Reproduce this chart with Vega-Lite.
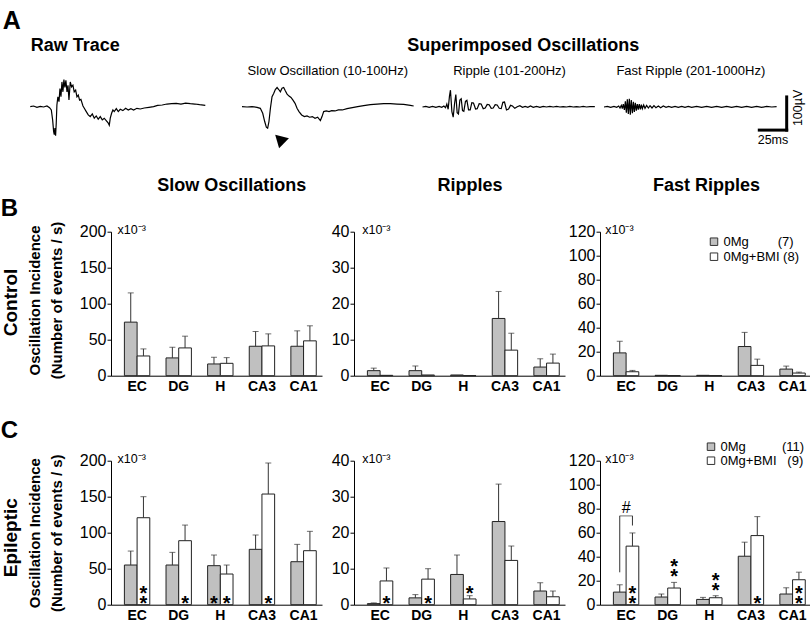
{
"$schema": "https://vega.github.io/schema/vega-lite/v6.json",
"background": "white",
"padding": {"left": 0, "top": 8, "right": 0, "bottom": 0},
"config": {"font": "Liberation Sans", "view": {"stroke": null}},
"datasets": {
"raw": [{"t":0,"v":1},{"t":3.0,"v":3},{"t":6.1,"v":-1},{"t":9.1,"v":2},{"t":12.2,"v":0},{"t":15.2,"v":3},{"t":17.6,"v":-2},{"t":19.2,"v":-9},{"t":20.4,"v":-39},{"t":21.3,"v":-74},{"t":21.9,"v":-84},{"t":22.5,"v":-64},{"t":23.1,"v":-87},{"t":23.7,"v":-49},{"t":24.3,"v":6},{"t":25.2,"v":31},{"t":26.2,"v":16},{"t":27.1,"v":56},{"t":28.0,"v":31},{"t":28.9,"v":76},{"t":29.8,"v":46},{"t":30.7,"v":83},{"t":31.6,"v":59},{"t":32.5,"v":81},{"t":33.5,"v":46},{"t":34.4,"v":66},{"t":35.3,"v":21},{"t":36.5,"v":76},{"t":37.7,"v":61},{"t":38.9,"v":66},{"t":40.1,"v":46},{"t":41.4,"v":51},{"t":42.6,"v":31},{"t":43.8,"v":36},{"t":45.0,"v":21},{"t":46.2,"v":23},{"t":48.1,"v":3},{"t":49.3,"v":-4},{"t":51.1,"v":-14},{"t":52.9,"v":-24},{"t":54.7,"v":-29},{"t":56.6,"v":-21},{"t":58.4,"v":-34},{"t":60.2,"v":-27},{"t":62.0,"v":-37},{"t":63.9,"v":-29},{"t":65.7,"v":-39},{"t":67.5,"v":-34},{"t":69.3,"v":-41},{"t":71.2,"v":-49},{"t":72.1,"v":-55},{"t":73.0,"v":-34},{"t":74.2,"v":-19},{"t":75.4,"v":-9},{"t":76.6,"v":-14},{"t":78.5,"v":-5},{"t":80.3,"v":-14},{"t":82.1,"v":-7},{"t":84.5,"v":-11},{"t":87.0,"v":-4},{"t":89.4,"v":-9},{"t":91.8,"v":-5},{"t":94.3,"v":-9},{"t":97.3,"v":-4},{"t":100.4,"v":-6},{"t":104.0,"v":-3},{"t":108.3,"v":-1},{"t":112.5,"v":1},{"t":116.2,"v":5},{"t":120.4,"v":6},{"t":124.7,"v":9},{"t":129.0,"v":10},{"t":133.2,"v":11},{"t":137.5,"v":9},{"t":141.7,"v":12},{"t":146.0,"v":10},{"t":150.2,"v":9},{"t":154.5,"v":7},{"t":159.7,"v":5}],
"slowtr": [{"t":0,"v":1},{"t":4.6,"v":0},{"t":9.1,"v":1},{"t":13.7,"v":-1},{"t":16.7,"v":-4},{"t":18.9,"v":-19},{"t":20.7,"v":-44},{"t":22.2,"v":-61},{"t":23.4,"v":-64},{"t":24.6,"v":-44},{"t":25.9,"v":-4},{"t":27.4,"v":31},{"t":28.9,"v":41},{"t":30.4,"v":53},{"t":32.0,"v":59},{"t":33.5,"v":53},{"t":35.0,"v":46},{"t":36.5,"v":57},{"t":38.0,"v":59},{"t":39.5,"v":49},{"t":41.1,"v":39},{"t":42.9,"v":33},{"t":44.7,"v":29},{"t":46.5,"v":21},{"t":48.4,"v":11},{"t":50.2,"v":-4},{"t":52.0,"v":-14},{"t":54.4,"v":-24},{"t":56.9,"v":-29},{"t":59.3,"v":-27},{"t":61.7,"v":-31},{"t":64.2,"v":-29},{"t":66.6,"v":-34},{"t":69.0,"v":-31},{"t":71.5,"v":-41},{"t":73.0,"v":-29},{"t":74.5,"v":-14},{"t":76.9,"v":-12},{"t":79.4,"v":-14},{"t":81.8,"v":-11},{"t":84.9,"v":-12},{"t":87.9,"v":-9},{"t":91.5,"v":-9},{"t":95.8,"v":-5},{"t":100.7,"v":-2},{"t":105.5,"v":1},{"t":111.0,"v":4},{"t":117.1,"v":7},{"t":123.2,"v":9},{"t":129.3,"v":10},{"t":135.3,"v":10},{"t":141.4,"v":9},{"t":147.5,"v":8},{"t":153.6,"v":5},{"t":156.6,"v":3}],
"rippletr": [{"t":0,"v":0},{"t":3.0,"v":2},{"t":6.1,"v":-1},{"t":9.1,"v":2},{"t":12.2,"v":-1},{"t":15.2,"v":2},{"t":17.6,"v":-1},{"t":19.5,"v":3},{"t":21.0,"v":-2},{"t":22.2,"v":9},{"t":23.4,"v":-7},{"t":24.6,"v":33},{"t":25.5,"v":51},{"t":26.8,"v":-14},{"t":28.0,"v":-31},{"t":29.2,"v":9},{"t":30.4,"v":38},{"t":31.6,"v":-17},{"t":32.8,"v":-21},{"t":34.1,"v":21},{"t":35.3,"v":25},{"t":36.5,"v":-11},{"t":37.7,"v":-13},{"t":39.2,"v":17},{"t":40.5,"v":20},{"t":42.0,"v":-9},{"t":43.5,"v":-9},{"t":45.0,"v":13},{"t":46.5,"v":12},{"t":48.4,"v":-6},{"t":49.9,"v":-5},{"t":51.7,"v":10},{"t":53.5,"v":9},{"t":55.4,"v":-5},{"t":57.2,"v":-3},{"t":59.0,"v":8},{"t":60.8,"v":7},{"t":62.7,"v":-4},{"t":64.5,"v":-3},{"t":66.3,"v":7},{"t":68.1,"v":6},{"t":70.0,"v":-4},{"t":71.8,"v":-5},{"t":73.3,"v":14},{"t":74.8,"v":15},{"t":76.6,"v":-9},{"t":78.5,"v":-6},{"t":80.3,"v":5},{"t":82.1,"v":3},{"t":84.2,"v":-4},{"t":86.4,"v":1},{"t":88.8,"v":4},{"t":91.2,"v":-1},{"t":93.7,"v":2},{"t":96.1,"v":-1},{"t":98.5,"v":3},{"t":101.0,"v":-1},{"t":104.0,"v":2},{"t":107.1,"v":-1},{"t":110.1,"v":2},{"t":113.1,"v":0},{"t":116.2,"v":2},{"t":119.2,"v":0},{"t":122.3,"v":2},{"t":125.3,"v":0},{"t":128.3,"v":1},{"t":131.4,"v":0},{"t":134.4,"v":2},{"t":137.5,"v":0},{"t":140.5,"v":1},{"t":143.6,"v":0},{"t":146.6,"v":2},{"t":149.6,"v":0},{"t":152.7,"v":1},{"t":157.2,"v":1}],
"fasttr": [{"t":0,"v":0},{"t":3.0,"v":2},{"t":6.1,"v":-1},{"t":9.1,"v":2},{"t":11.6,"v":-1},{"t":13.4,"v":3},{"t":14.6,"v":-3},{"t":15.8,"v":5},{"t":16.7,"v":-5},{"t":17.6,"v":9},{"t":18.6,"v":-9},{"t":19.5,"v":17},{"t":20.4,"v":-17},{"t":21.3,"v":23},{"t":22.2,"v":-21},{"t":23.1,"v":25},{"t":24.0,"v":-23},{"t":24.9,"v":21},{"t":25.9,"v":-19},{"t":26.8,"v":16},{"t":27.7,"v":-15},{"t":28.6,"v":13},{"t":29.5,"v":-11},{"t":30.4,"v":9},{"t":31.3,"v":-8},{"t":32.2,"v":9},{"t":33.2,"v":-7},{"t":34.1,"v":7},{"t":35.0,"v":-5},{"t":36.2,"v":6},{"t":37.4,"v":-4},{"t":38.9,"v":5},{"t":40.5,"v":-3},{"t":42.0,"v":4},{"t":43.8,"v":-3},{"t":45.6,"v":4},{"t":47.4,"v":-2},{"t":49.6,"v":3},{"t":51.7,"v":-2},{"t":54.1,"v":3},{"t":56.6,"v":-1},{"t":59.0,"v":2},{"t":61.7,"v":-1},{"t":64.8,"v":2},{"t":67.8,"v":-1},{"t":70.9,"v":2},{"t":73.9,"v":-1},{"t":76.9,"v":2},{"t":80.0,"v":-1},{"t":84.5,"v":2},{"t":89.1,"v":-1},{"t":93.7,"v":2},{"t":98.2,"v":-1},{"t":102.8,"v":2},{"t":107.4,"v":-1},{"t":111.9,"v":2},{"t":116.5,"v":-1},{"t":121.0,"v":2},{"t":125.6,"v":-1},{"t":130.2,"v":2},{"t":134.7,"v":-1},{"t":139.3,"v":2},{"t":143.9,"v":-1},{"t":148.4,"v":2},{"t":153.0,"v":0},{"t":157.5,"v":1}],
"arrow": [{"t":34.3,"v":-97}],
"scalebar": [{"t":141.7,"t2":166.7,"v":-70,"v2":-70},{"t":166.7,"t2":166.7,"v":-70,"v2":30.5}],
"sbv": [{"t":177,"v":-2.7,"label":"100µV"}],
"sbh": [{"t":154.2,"v":-70,"label":"25ms"}],
"Bslow": [{"region":"EC","grp":"0Mg","val":74.4,"hi":115},{"region":"EC","grp":"0Mg+BMI","val":27.4,"hi":37.2},{"region":"DG","grp":"0Mg","val":24.7,"hi":39.5},{"region":"DG","grp":"0Mg+BMI","val":38.6,"hi":54.9},{"region":"H","grp":"0Mg","val":16.3,"hi":25.6},{"region":"H","grp":"0Mg+BMI","val":17.2,"hi":25.1},{"region":"CA3","grp":"0Mg","val":40.9,"hi":61.4},{"region":"CA3","grp":"0Mg+BMI","val":41.4,"hi":58.1},{"region":"CA1","grp":"0Mg","val":40.9,"hi":62.3},{"region":"CA1","grp":"0Mg+BMI","val":48.4,"hi":69.3}],
"Bripple": [{"region":"EC","grp":"0Mg","val":1.4,"hi":2.1},{"region":"EC","grp":"0Mg+BMI","val":0.1},{"region":"DG","grp":"0Mg","val":1.4,"hi":2.7},{"region":"DG","grp":"0Mg+BMI","val":0.2},{"region":"H","grp":"0Mg","val":0.2},{"region":"H","grp":"0Mg+BMI","val":0},{"region":"CA3","grp":"0Mg","val":15.9,"hi":23.4},{"region":"CA3","grp":"0Mg+BMI","val":7.1,"hi":11.8},{"region":"CA1","grp":"0Mg","val":2.4,"hi":4.7},{"region":"CA1","grp":"0Mg+BMI","val":3.5,"hi":6.0}],
"Bfast": [{"region":"EC","grp":"0Mg","val":19.0,"hi":28.7},{"region":"EC","grp":"0Mg+BMI","val":3.3,"hi":4.4},{"region":"DG","grp":"0Mg","val":0.3},{"region":"DG","grp":"0Mg+BMI","val":0},{"region":"H","grp":"0Mg","val":0.3},{"region":"H","grp":"0Mg+BMI","val":0},{"region":"CA3","grp":"0Mg","val":24.3,"hi":36.1},{"region":"CA3","grp":"0Mg+BMI","val":8.6,"hi":13.8},{"region":"CA1","grp":"0Mg","val":5.5,"hi":8.0},{"region":"CA1","grp":"0Mg+BMI","val":2.2,"hi":3.0}],
"Cslow": [{"region":"EC","grp":"0Mg","val":55.1,"hi":74.5},{"region":"EC","grp":"0Mg+BMI","val":120.8,"hi":150,"stars":2,"pos":"base"},{"region":"DG","grp":"0Mg","val":55.1,"hi":72.7},{"region":"DG","grp":"0Mg+BMI","val":88.9,"hi":110.6,"stars":1,"pos":"base"},{"region":"H","grp":"0Mg","val":54.2,"hi":69,"stars":1,"pos":"base"},{"region":"H","grp":"0Mg+BMI","val":42.6,"hi":55.1,"stars":1,"pos":"base"},{"region":"CA3","grp":"0Mg","val":76.9,"hi":96.8},{"region":"CA3","grp":"0Mg+BMI","val":153.7,"hi":196.8,"stars":1,"pos":"base"},{"region":"CA1","grp":"0Mg","val":59.7,"hi":83.8},{"region":"CA1","grp":"0Mg+BMI","val":75,"hi":101.9}],
"Cripple": [{"region":"EC","grp":"0Mg","val":0.3,"hi":0.5},{"region":"EC","grp":"0Mg+BMI","val":6.6,"hi":10.2,"stars":1,"pos":"base"},{"region":"DG","grp":"0Mg","val":1.9,"hi":2.8},{"region":"DG","grp":"0Mg+BMI","val":7.1,"hi":10.0,"stars":1,"pos":"base"},{"region":"H","grp":"0Mg","val":8.4,"hi":13.8},{"region":"H","grp":"0Mg+BMI","val":1.6,"hi":2.5,"stars":1,"pos":"top"},{"region":"CA3","grp":"0Mg","val":23.1,"hi":33.5},{"region":"CA3","grp":"0Mg+BMI","val":12.3,"hi":16.3},{"region":"CA1","grp":"0Mg","val":3.8,"hi":6.1},{"region":"CA1","grp":"0Mg+BMI","val":2.2,"hi":3.8}],
"Cfast": [{"region":"EC","grp":"0Mg","val":10.5,"hi":16.6},{"region":"EC","grp":"0Mg+BMI","val":48.8,"hi":59.8,"stars":2,"pos":"base"},{"region":"DG","grp":"0Mg","val":6.4,"hi":8.9},{"region":"DG","grp":"0Mg+BMI","val":13.9,"hi":18.6,"stars":2,"pos":"top"},{"region":"H","grp":"0Mg","val":4.4,"hi":6.1},{"region":"H","grp":"0Mg+BMI","val":5.8,"hi":7.5,"stars":2,"pos":"top"},{"region":"CA3","grp":"0Mg","val":40.4,"hi":52.1},{"region":"CA3","grp":"0Mg+BMI","val":57.6,"hi":73.4,"stars":1,"pos":"base"},{"region":"CA1","grp":"0Mg","val":8.9,"hi":14.1},{"region":"CA1","grp":"0Mg+BMI","val":20.8,"hi":27.1,"stars":2,"pos":"base"}],
"bracket": [{"region":"EC","grp":"0Mg","lo":27,"hi":74},{"region":"EC","grp":"0Mg+BMI","lo":66,"hi":74}],
"hash": [{"region":"EC","y":74,"label":"#"}]
},
"resolve": {"scale": {"x": "independent", "y": "independent", "fill": "independent", "xOffset": "independent"}, "legend": {"fill": "independent"}},
"spacing": 27.7,
"vconcat": [
{
"spacing": 36,
"bounds": "flush",
"resolve": {"scale": {"x": "independent", "y": "independent"}},
"hconcat": [
{"width": 94.3, "height": 66, "data": {"name": "raw"},
 "mark": {"type": "line", "color": "black", "strokeWidth": 1.2},
 "encoding": {"x": {"field": "t", "type": "quantitative", "scale": {"domain": [73.66, 159.7], "nice": false, "zero": false}, "axis": {"orient": "top", "labels": false, "ticks": false, "domain": false, "grid": false, "minExtent": 0, "maxExtent": 0, "title": "Raw Trace", "titleFontSize": 18, "titleFontWeight": "bold", "titleColor": "black", "titleAngle": 0, "titleAlign": "left", "titleBaseline": "alphabetic", "titleX": -80.7, "titleY": -23.1}},
  "y": {"field": "v", "type": "quantitative", "scale": {"domain": [-100, 100], "nice": false, "zero": false}, "axis": {"orient": "left", "labels": false, "ticks": false, "domain": false, "grid": false, "minExtent": 0, "maxExtent": 0, "title": "A", "titleFontSize": 25, "titleFontWeight": "bold", "titleColor": "black", "titleAngle": 0, "titleAlign": "left", "titleBaseline": "alphabetic", "titleX": -108.7, "titleY": -46}}}},
{"spacing": 8.5,
 "bounds": "flush",
 "resolve": {"scale": {"x": "independent", "y": "independent"}},
 "hconcat": [
 {"width": 172, "height": 66,
  "resolve": {"axis": {"x": "independent", "y": "independent"}},
  "layer": [
   {"data": {"name": "slowtr"}, "mark": {"type": "line", "color": "black", "strokeWidth": 1.2},
    "encoding": {"x": {"field": "t", "type": "quantitative", "scale": {"domain": [0, 156.9], "nice": false, "zero": false}, "axis": {"orient": "top", "labels": false, "ticks": false, "domain": false, "grid": false, "minExtent": 0, "maxExtent": 0, "title": "Slow Oscillation (10-100Hz)", "titleFontSize": 13, "titleFontWeight": "normal", "titleColor": "black", "titleAngle": 0, "titleAlign": "center", "titleBaseline": "alphabetic", "titleX": 85.3, "titleY": 0.3}},
     "y": {"field": "v", "type": "quantitative", "scale": {"domain": [-100, 100], "nice": false, "zero": false}, "axis": null}}},
   {"data": {"name": "arrow"}, "mark": {"type": "point", "shape": "triangle-up", "filled": true, "color": "black", "opacity": 1, "size": 200, "angle": -46},
    "encoding": {"x": {"field": "t", "type": "quantitative", "axis": null}, "y": {"field": "v", "type": "quantitative", "axis": null}}}
  ]},
 {"width": 173, "height": 66, "data": {"name": "rippletr"},
  "mark": {"type": "line", "color": "black", "strokeWidth": 1.2},
  "encoding": {"x": {"field": "t", "type": "quantitative", "scale": {"domain": [0, 157.8], "nice": false, "zero": false}, "axis": {"orient": "top", "labels": false, "ticks": false, "domain": false, "grid": false, "minExtent": 0, "maxExtent": 0, "title": "Ripple (101-200Hz)", "titleFontSize": 13, "titleFontWeight": "normal", "titleColor": "black", "titleAngle": 0, "titleAlign": "center", "titleBaseline": "alphabetic", "titleX": 86.5, "titleY": 0.3}},
   "y": {"field": "v", "type": "quantitative", "scale": {"domain": [-100, 100], "nice": false, "zero": false}, "axis": {"orient": "left", "labels": false, "ticks": false, "domain": false, "grid": false, "minExtent": 0, "maxExtent": 0, "title": "Superimposed Oscillations", "titleFontSize": 18, "titleFontWeight": "bold", "titleColor": "black", "titleAngle": 0, "titleAlign": "center", "titleBaseline": "alphabetic", "titleX": 100.3, "titleY": -23.1}}}},
 {"width": 200, "height": 66,
  "resolve": {"axis": {"x": "independent", "y": "independent"}},
  "layer": [
   {"data": {"name": "fasttr"}, "mark": {"type": "line", "color": "black", "strokeWidth": 1.2},
    "encoding": {"x": {"field": "t", "type": "quantitative", "scale": {"domain": [0, 182.5], "nice": false, "zero": false}, "axis": {"orient": "top", "labels": false, "ticks": false, "domain": false, "grid": false, "minExtent": 0, "maxExtent": 0, "title": "Fast Ripple (201-1000Hz)", "titleFontSize": 13, "titleFontWeight": "normal", "titleColor": "black", "titleAngle": 0, "titleAlign": "center", "titleBaseline": "alphabetic", "titleX": 86.3, "titleY": 0.3}},
     "y": {"field": "v", "type": "quantitative", "scale": {"domain": [-100, 100], "nice": false, "zero": false}, "axis": null}}},
   {"data": {"name": "scalebar"}, "mark": {"type": "rule", "color": "black", "strokeWidth": 3, "strokeCap": "square"},
    "encoding": {"x": {"field": "t", "type": "quantitative", "axis": null}, "x2": {"field": "t2"}, "y": {"field": "v", "type": "quantitative", "axis": null}, "y2": {"field": "v2"}}},
   {"data": {"name": "sbv"}, "mark": {"type": "text", "fontSize": 12.5, "angle": 270, "align": "center", "baseline": "middle", "color": "black"},
    "encoding": {"x": {"field": "t", "type": "quantitative", "axis": null}, "y": {"field": "v", "type": "quantitative", "axis": null}, "text": {"field": "label"}}},
   {"data": {"name": "sbh"}, "mark": {"type": "text", "fontSize": 12.5, "align": "center", "baseline": "top", "dy": 3.8, "color": "black"},
    "encoding": {"x": {"field": "t", "type": "quantitative", "axis": null}, "y": {"field": "v", "type": "quantitative", "axis": null}, "text": {"field": "label"}}}
  ]}
 ]}
]
},
{
"spacing": 25,
"resolve": {"scale": {"x": "independent", "y": "independent", "fill": "independent", "xOffset": "independent"}, "legend": {"fill": "independent"}},
"vconcat": [
{
"spacing": 0,
"resolve": {"scale": {"x": "independent", "y": "independent", "fill": "independent", "xOffset": "independent"}, "legend": {"fill": "independent"}},
"hconcat": [
{"width": 211, "height": 144, "data": {"name": "Bslow"},
 "resolve": {"axis": {"x": "independent", "y": "independent"}},
 "layer": [
  {"mark": {"type": "bar", "stroke": "#222", "strokeWidth": 1},
   "encoding": {"x": {"field": "region", "type": "nominal", "scale": {"domain": ["EC","DG","H","CA3","CA1"], "paddingInner": 0.39, "paddingOuter": 0.23, "align": 0.7}, "axis": {"orient": "bottom", "title": null, "labelFontSize": 14, "labelFontWeight": "bold", "labelColor": "black", "labelPadding": 3.5, "ticks": false, "tickSize": 0, "domainColor": "black", "labelAngle": 0, "grid": false}},
    "xOffset": {"field": "grp", "type": "nominal", "scale": {"domain": ["0Mg","0Mg+BMI"], "paddingInner": 0, "paddingOuter": 0}},
    "y": {"field": "val", "type": "quantitative", "scale": {"domain": [0, 200], "nice": false}, "axis": {"orient": "left", "values": [0,50,100,150,200], "labelFontSize": 16, "labelColor": "black", "labelPadding": 1, "tickSize": 4, "tickColor": "black", "domainColor": "black", "grid": false, "title": ["Oscillation Incidence", "(Number of events / s)"], "titleFontSize": 15, "titleFontWeight": "bold", "titleColor": "black", "titleLineHeight": 22, "titleAngle": 270, "titleAlign": "center", "titleBaseline": "middle", "titleX": -76.7, "titleY": 68.3}},
    "fill": {"field": "grp", "type": "nominal", "scale": {"domain": ["0Mg","0Mg+BMI"], "range": ["#c0c0c0","#ffffff"]}, "legend": null}}},
  {"transform": [{"filter": "isValid(datum.hi)"}], "mark": {"type": "rule", "color": "#333", "strokeWidth": 1},
   "encoding": {"x": {"field": "region", "type": "nominal", "scale": {"domain": ["EC","DG","H","CA3","CA1"], "paddingInner": 0.39, "paddingOuter": 0.23, "align": 0.7}, "axis": {"orient": "top", "labels": false, "ticks": false, "domain": false, "grid": false, "minExtent": 0, "maxExtent": 0, "title": "Slow Oscillations", "titleFontSize": 18, "titleFontWeight": "bold", "titleColor": "black", "titleAngle": 0, "titleAlign": "center", "titleBaseline": "alphabetic", "titleX": 120.3, "titleY": -40.8}},
    "xOffset": {"field": "grp", "type": "nominal"},
    "y": {"field": "val", "type": "quantitative", "scale": {"domain": [0, 200], "nice": false}, "axis": {"orient": "left", "labels": false, "ticks": false, "domain": false, "grid": false, "minExtent": 0, "maxExtent": 0, "title": "Control", "titleFontSize": 19, "titleFontWeight": "bold", "titleColor": "black", "titleAngle": 270, "titleAlign": "center", "titleBaseline": "middle", "titleX": -100.2, "titleY": 70.3}},
    "y2": {"field": "hi"}}},
  {"transform": [{"filter": "isValid(datum.hi)"}], "mark": {"type": "tick", "orient": "horizontal", "color": "#333", "thickness": 1, "size": 6},
   "encoding": {"x": {"field": "region", "type": "nominal", "axis": null}, "xOffset": {"field": "grp", "type": "nominal"},
    "y": {"field": "hi", "type": "quantitative", "scale": {"domain": [0, 200], "nice": false}, "axis": {"orient": "left", "labels": false, "ticks": false, "domain": false, "grid": false, "minExtent": 0, "maxExtent": 0, "title": "B", "titleFontSize": 24, "titleFontWeight": "bold", "titleColor": "black", "titleAngle": 0, "titleAlign": "left", "titleBaseline": "alphabetic", "titleX": -110.7, "titleY": -16.5}}}},
  {"transform": [{"filter": "datum.stars == 1 && datum.pos == 'top'"}], "mark": {"type": "text", "text": "*", "fontSize": 20, "fontWeight": "bold", "baseline": "bottom", "dy": 8, "color": "black"},
   "encoding": {"x": {"field": "region", "type": "nominal", "axis": null}, "xOffset": {"field": "grp", "type": "nominal"}, "y": {"field": "hi", "type": "quantitative", "axis": {"orient": "left", "labels": false, "ticks": false, "domain": false, "grid": false, "minExtent": 0, "maxExtent": 0, "title": "x10⁻³", "titleFontSize": 12.5, "titleFontWeight": "normal", "titleColor": "black", "titleAngle": 0, "titleAlign": "left", "titleBaseline": "alphabetic", "titleX": 6, "titleY": 1.5}}}}
 ]},
{"width": 211, "height": 144, "data": {"name": "Bripple"},
 "resolve": {"axis": {"x": "independent", "y": "independent"}},
 "layer": [
  {"mark": {"type": "bar", "stroke": "#222", "strokeWidth": 1},
   "encoding": {"x": {"field": "region", "type": "nominal", "scale": {"domain": ["EC","DG","H","CA3","CA1"], "paddingInner": 0.39, "paddingOuter": 0.23, "align": 0.7}, "axis": {"orient": "bottom", "title": null, "labelFontSize": 14, "labelFontWeight": "bold", "labelColor": "black", "labelPadding": 3.5, "ticks": false, "tickSize": 0, "domainColor": "black", "labelAngle": 0, "grid": false}},
    "xOffset": {"field": "grp", "type": "nominal", "scale": {"domain": ["0Mg","0Mg+BMI"], "paddingInner": 0, "paddingOuter": 0}},
    "y": {"field": "val", "type": "quantitative", "scale": {"domain": [0, 40], "nice": false}, "axis": {"orient": "left", "values": [0,10,20,30,40], "labelFontSize": 16, "labelColor": "black", "labelPadding": 1, "tickSize": 4, "tickColor": "black", "domainColor": "black", "grid": false, "minExtent": 32, "maxExtent": 32, "title": "x10⁻³", "titleFontSize": 12.5, "titleFontWeight": "normal", "titleColor": "black", "titleAngle": 0, "titleAlign": "left", "titleBaseline": "alphabetic", "titleX": 7.7, "titleY": 1.5}},
    "fill": {"field": "grp", "type": "nominal", "scale": {"domain": ["0Mg","0Mg+BMI"], "range": ["#c0c0c0","#ffffff"]}, "legend": null}}},
  {"transform": [{"filter": "isValid(datum.hi)"}], "mark": {"type": "rule", "color": "#333", "strokeWidth": 1},
   "encoding": {"x": {"field": "region", "type": "nominal", "axis": {"orient": "top", "labels": false, "ticks": false, "domain": false, "grid": false, "minExtent": 0, "maxExtent": 0, "title": "Ripples", "titleFontSize": 18, "titleFontWeight": "bold", "titleColor": "black", "titleAngle": 0, "titleAlign": "center", "titleBaseline": "alphabetic", "titleX": 115.5, "titleY": -40.8}},
    "xOffset": {"field": "grp", "type": "nominal"},
    "y": {"field": "val", "type": "quantitative", "axis": null}, "y2": {"field": "hi"}}},
  {"transform": [{"filter": "isValid(datum.hi)"}], "mark": {"type": "tick", "orient": "horizontal", "color": "#333", "thickness": 1, "size": 6},
   "encoding": {"x": {"field": "region", "type": "nominal", "axis": null}, "xOffset": {"field": "grp", "type": "nominal"}, "y": {"field": "hi", "type": "quantitative", "axis": null}}}
 ]},
{"width": 211, "height": 144, "data": {"name": "Bfast"},
 "resolve": {"axis": {"x": "independent", "y": "independent"}},
 "layer": [
  {"mark": {"type": "bar", "stroke": "#222", "strokeWidth": 1},
   "encoding": {"x": {"field": "region", "type": "nominal", "scale": {"domain": ["EC","DG","H","CA3","CA1"], "paddingInner": 0.39, "paddingOuter": 0.23, "align": 0.7}, "axis": {"orient": "bottom", "title": null, "labelFontSize": 14, "labelFontWeight": "bold", "labelColor": "black", "labelPadding": 3.5, "ticks": false, "tickSize": 0, "domainColor": "black", "labelAngle": 0, "grid": false}},
    "xOffset": {"field": "grp", "type": "nominal", "scale": {"domain": ["0Mg","0Mg+BMI"], "paddingInner": 0, "paddingOuter": 0}},
    "y": {"field": "val", "type": "quantitative", "scale": {"domain": [0, 120], "nice": false}, "axis": {"orient": "left", "values": [0,20,40,60,80,100,120], "labelFontSize": 16, "labelColor": "black", "labelPadding": 1, "tickSize": 4, "tickColor": "black", "domainColor": "black", "grid": false, "minExtent": 35, "maxExtent": 35, "title": "x10⁻³", "titleFontSize": 12.5, "titleFontWeight": "normal", "titleColor": "black", "titleAngle": 0, "titleAlign": "left", "titleBaseline": "alphabetic", "titleX": 4.8, "titleY": 1.5}},
    "fill": {"field": "grp", "type": "nominal", "scale": {"domain": ["0Mg","0Mg+BMI"], "range": ["#c0c0c0","#ffffff"]},
     "legend": {"orient": "none", "legendX": 107.5, "legendY": 3.5, "title": null, "symbolType": "square", "symbolSize": 56, "symbolStrokeColor": "#333", "symbolStrokeWidth": 1, "labelFont": "Liberation Sans", "labelFontSize": 13, "labelColor": "black", "labelOffset": 3, "rowPadding": 1, "padding": 0, "labelLimit": 300,
      "labelExpr": "datum.label == '0Mg' ? '0Mg\u00a0\u00a0\u00a0\u00a0\u00a0\u00a0\u00a0\u00a0(7)' : '0Mg+BMI (8)'"}}}},
  {"transform": [{"filter": "isValid(datum.hi)"}], "mark": {"type": "rule", "color": "#333", "strokeWidth": 1},
   "encoding": {"x": {"field": "region", "type": "nominal", "axis": {"orient": "top", "labels": false, "ticks": false, "domain": false, "grid": false, "minExtent": 0, "maxExtent": 0, "title": "Fast Ripples", "titleFontSize": 18, "titleFontWeight": "bold", "titleColor": "black", "titleAngle": 0, "titleAlign": "center", "titleBaseline": "alphabetic", "titleX": 106, "titleY": -40.8}},
    "xOffset": {"field": "grp", "type": "nominal"},
    "y": {"field": "val", "type": "quantitative", "axis": null}, "y2": {"field": "hi"}}},
  {"transform": [{"filter": "isValid(datum.hi)"}], "mark": {"type": "tick", "orient": "horizontal", "color": "#333", "thickness": 1, "size": 6},
   "encoding": {"x": {"field": "region", "type": "nominal", "axis": null}, "xOffset": {"field": "grp", "type": "nominal"}, "y": {"field": "hi", "type": "quantitative", "axis": null}}}
 ]}
]
},
{
"spacing": 0,
"resolve": {"scale": {"x": "independent", "y": "independent", "fill": "independent", "xOffset": "independent"}, "legend": {"fill": "independent"}},
"hconcat": [
{"width": 211, "height": 144, "data": {"name": "Cslow"},
 "resolve": {"axis": {"x": "independent", "y": "independent"}},
 "layer": [
  {"mark": {"type": "bar", "stroke": "#222", "strokeWidth": 1},
   "encoding": {"x": {"field": "region", "type": "nominal", "scale": {"domain": ["EC","DG","H","CA3","CA1"], "paddingInner": 0.39, "paddingOuter": 0.23, "align": 0.7}, "axis": {"orient": "bottom", "title": null, "labelFontSize": 14, "labelFontWeight": "bold", "labelColor": "black", "labelPadding": 3.5, "ticks": false, "tickSize": 0, "domainColor": "black", "labelAngle": 0, "grid": false}},
    "xOffset": {"field": "grp", "type": "nominal", "scale": {"domain": ["0Mg","0Mg+BMI"], "paddingInner": 0, "paddingOuter": 0}},
    "y": {"field": "val", "type": "quantitative", "scale": {"domain": [0, 200], "nice": false}, "axis": {"orient": "left", "values": [0,50,100,150,200], "labelFontSize": 16, "labelColor": "black", "labelPadding": 1, "tickSize": 4, "tickColor": "black", "domainColor": "black", "grid": false, "title": ["Oscillation Incidence", "(Number of events / s)"], "titleFontSize": 15, "titleFontWeight": "bold", "titleColor": "black", "titleLineHeight": 22, "titleAngle": 270, "titleAlign": "center", "titleBaseline": "middle", "titleX": -76.7, "titleY": 72}},
    "fill": {"field": "grp", "type": "nominal", "scale": {"domain": ["0Mg","0Mg+BMI"], "range": ["#c0c0c0","#ffffff"]}, "legend": null}}},
  {"transform": [{"filter": "isValid(datum.hi)"}], "mark": {"type": "rule", "color": "#333", "strokeWidth": 1},
   "encoding": {"x": {"field": "region", "type": "nominal", "axis": null}, "xOffset": {"field": "grp", "type": "nominal"},
    "y": {"field": "val", "type": "quantitative", "axis": {"orient": "left", "labels": false, "ticks": false, "domain": false, "grid": false, "minExtent": 0, "maxExtent": 0, "title": "Epileptic", "titleFontSize": 19, "titleFontWeight": "bold", "titleColor": "black", "titleAngle": 270, "titleAlign": "center", "titleBaseline": "middle", "titleX": -100.2, "titleY": 76.5}},
    "y2": {"field": "hi"}}},
  {"transform": [{"filter": "isValid(datum.hi)"}], "mark": {"type": "tick", "orient": "horizontal", "color": "#333", "thickness": 1, "size": 6},
   "encoding": {"x": {"field": "region", "type": "nominal", "axis": null}, "xOffset": {"field": "grp", "type": "nominal"},
    "y": {"field": "hi", "type": "quantitative", "axis": {"orient": "left", "labels": false, "ticks": false, "domain": false, "grid": false, "minExtent": 0, "maxExtent": 0, "title": "C", "titleFontSize": 24, "titleFontWeight": "bold", "titleColor": "black", "titleAngle": 0, "titleAlign": "left", "titleBaseline": "alphabetic", "titleX": -110.7, "titleY": -22.8}}}},
  {"transform": [{"filter": "datum.stars == 1 && datum.pos == 'base'"}], "mark": {"type": "text", "text": "*", "fontSize": 20, "fontWeight": "bold", "baseline": "bottom", "dy": 9.3, "color": "black"},
   "encoding": {"x": {"field": "region", "type": "nominal", "axis": null}, "xOffset": {"field": "grp", "type": "nominal"}, "y": {"datum": 0, "type": "quantitative", "axis": null}}},
  {"transform": [{"filter": "datum.stars == 2 && datum.pos == 'base'"}], "mark": {"type": "text", "text": ["*", "*"], "lineHeight": 10, "fontSize": 20, "fontWeight": "bold", "baseline": "bottom", "dy": -0.7, "color": "black"},
   "encoding": {"x": {"field": "region", "type": "nominal", "axis": null}, "xOffset": {"field": "grp", "type": "nominal"}, "y": {"datum": 0, "type": "quantitative", "axis": null}}},
  {"transform": [{"filter": "datum.stars == 1 && datum.pos == 'top'"}], "mark": {"type": "text", "text": "*", "fontSize": 20, "fontWeight": "bold", "baseline": "bottom", "dy": 8, "color": "black"},
   "encoding": {"x": {"field": "region", "type": "nominal", "axis": null}, "xOffset": {"field": "grp", "type": "nominal"}, "y": {"field": "hi", "type": "quantitative", "axis": {"orient": "left", "labels": false, "ticks": false, "domain": false, "grid": false, "minExtent": 0, "maxExtent": 0, "title": "x10⁻³", "titleFontSize": 12.5, "titleFontWeight": "normal", "titleColor": "black", "titleAngle": 0, "titleAlign": "left", "titleBaseline": "alphabetic", "titleX": 6, "titleY": 1.5}}}}
 ]},
{"width": 211, "height": 144, "data": {"name": "Cripple"},
 "resolve": {"axis": {"x": "independent", "y": "independent"}},
 "layer": [
  {"mark": {"type": "bar", "stroke": "#222", "strokeWidth": 1},
   "encoding": {"x": {"field": "region", "type": "nominal", "scale": {"domain": ["EC","DG","H","CA3","CA1"], "paddingInner": 0.39, "paddingOuter": 0.23, "align": 0.7}, "axis": {"orient": "bottom", "title": null, "labelFontSize": 14, "labelFontWeight": "bold", "labelColor": "black", "labelPadding": 3.5, "ticks": false, "tickSize": 0, "domainColor": "black", "labelAngle": 0, "grid": false}},
    "xOffset": {"field": "grp", "type": "nominal", "scale": {"domain": ["0Mg","0Mg+BMI"], "paddingInner": 0, "paddingOuter": 0}},
    "y": {"field": "val", "type": "quantitative", "scale": {"domain": [0, 40], "nice": false}, "axis": {"orient": "left", "values": [0,10,20,30,40], "labelFontSize": 16, "labelColor": "black", "labelPadding": 1, "tickSize": 4, "tickColor": "black", "domainColor": "black", "grid": false, "minExtent": 32, "maxExtent": 32, "title": "x10⁻³", "titleFontSize": 12.5, "titleFontWeight": "normal", "titleColor": "black", "titleAngle": 0, "titleAlign": "left", "titleBaseline": "alphabetic", "titleX": 7.7, "titleY": 1.5}},
    "fill": {"field": "grp", "type": "nominal", "scale": {"domain": ["0Mg","0Mg+BMI"], "range": ["#c0c0c0","#ffffff"]}, "legend": null}}},
  {"transform": [{"filter": "isValid(datum.hi)"}], "mark": {"type": "rule", "color": "#333", "strokeWidth": 1},
   "encoding": {"x": {"field": "region", "type": "nominal", "axis": null}, "xOffset": {"field": "grp", "type": "nominal"}, "y": {"field": "val", "type": "quantitative", "axis": null}, "y2": {"field": "hi"}}},
  {"transform": [{"filter": "isValid(datum.hi)"}], "mark": {"type": "tick", "orient": "horizontal", "color": "#333", "thickness": 1, "size": 6},
   "encoding": {"x": {"field": "region", "type": "nominal", "axis": null}, "xOffset": {"field": "grp", "type": "nominal"}, "y": {"field": "hi", "type": "quantitative", "axis": null}}},
  {"transform": [{"filter": "datum.stars == 1 && datum.pos == 'base'"}], "mark": {"type": "text", "text": "*", "fontSize": 20, "fontWeight": "bold", "baseline": "bottom", "dy": 9.3, "color": "black"},
   "encoding": {"x": {"field": "region", "type": "nominal", "axis": null}, "xOffset": {"field": "grp", "type": "nominal"}, "y": {"datum": 0, "type": "quantitative", "axis": null}}},
  {"transform": [{"filter": "datum.stars == 1 && datum.pos == 'top'"}], "mark": {"type": "text", "text": "*", "fontSize": 20, "fontWeight": "bold", "baseline": "bottom", "dy": 8, "color": "black"},
   "encoding": {"x": {"field": "region", "type": "nominal", "axis": null}, "xOffset": {"field": "grp", "type": "nominal"}, "y": {"field": "hi", "type": "quantitative", "axis": null}}}
 ]},
{"width": 211, "height": 144, "data": {"name": "Cfast"},
 "resolve": {"axis": {"x": "independent", "y": "independent"}},
 "layer": [
  {"mark": {"type": "bar", "stroke": "#222", "strokeWidth": 1},
   "encoding": {"x": {"field": "region", "type": "nominal", "scale": {"domain": ["EC","DG","H","CA3","CA1"], "paddingInner": 0.39, "paddingOuter": 0.23, "align": 0.7}, "axis": {"orient": "bottom", "title": null, "labelFontSize": 14, "labelFontWeight": "bold", "labelColor": "black", "labelPadding": 3.5, "ticks": false, "tickSize": 0, "domainColor": "black", "labelAngle": 0, "grid": false}},
    "xOffset": {"field": "grp", "type": "nominal", "scale": {"domain": ["0Mg","0Mg+BMI"], "paddingInner": 0, "paddingOuter": 0}},
    "y": {"field": "val", "type": "quantitative", "scale": {"domain": [0, 120], "nice": false}, "axis": {"orient": "left", "values": [0,20,40,60,80,100,120], "labelFontSize": 16, "labelColor": "black", "labelPadding": 1, "tickSize": 4, "tickColor": "black", "domainColor": "black", "grid": false, "minExtent": 35, "maxExtent": 35, "title": "x10⁻³", "titleFontSize": 12.5, "titleFontWeight": "normal", "titleColor": "black", "titleAngle": 0, "titleAlign": "left", "titleBaseline": "alphabetic", "titleX": 4.8, "titleY": 1.5}},
    "fill": {"field": "grp", "type": "nominal", "scale": {"domain": ["0Mg","0Mg+BMI"], "range": ["#c0c0c0","#ffffff"]},
     "legend": {"orient": "none", "legendX": 104.5, "legendY": -20.5, "title": null, "symbolType": "square", "symbolSize": 56, "symbolStrokeColor": "#333", "symbolStrokeWidth": 1, "labelFont": "Liberation Sans", "labelFontSize": 13, "labelColor": "black", "labelOffset": 3, "rowPadding": -1, "padding": 0, "labelLimit": 300,
      "labelExpr": "datum.label == '0Mg' ? '0Mg\u00a0\u00a0\u00a0\u00a0\u00a0\u00a0\u00a0\u00a0\u00a0\u00a0(11)' : '0Mg+BMI\u00a0\u00a0\u00a0(9)'"}}}},
  {"transform": [{"filter": "isValid(datum.hi)"}], "mark": {"type": "rule", "color": "#333", "strokeWidth": 1},
   "encoding": {"x": {"field": "region", "type": "nominal", "axis": null}, "xOffset": {"field": "grp", "type": "nominal"}, "y": {"field": "val", "type": "quantitative", "axis": null}, "y2": {"field": "hi"}}},
  {"transform": [{"filter": "isValid(datum.hi)"}], "mark": {"type": "tick", "orient": "horizontal", "color": "#333", "thickness": 1, "size": 6},
   "encoding": {"x": {"field": "region", "type": "nominal", "axis": null}, "xOffset": {"field": "grp", "type": "nominal"}, "y": {"field": "hi", "type": "quantitative", "axis": null}}},
  {"transform": [{"filter": "datum.stars == 1 && datum.pos == 'base'"}], "mark": {"type": "text", "text": "*", "fontSize": 20, "fontWeight": "bold", "baseline": "bottom", "dy": 9.3, "color": "black"},
   "encoding": {"x": {"field": "region", "type": "nominal", "axis": null}, "xOffset": {"field": "grp", "type": "nominal"}, "y": {"datum": 0, "type": "quantitative", "axis": null}}},
  {"transform": [{"filter": "datum.stars == 2 && datum.pos == 'base'"}], "mark": {"type": "text", "text": ["*", "*"], "lineHeight": 10, "fontSize": 20, "fontWeight": "bold", "baseline": "bottom", "dy": -0.7, "color": "black"},
   "encoding": {"x": {"field": "region", "type": "nominal", "axis": null}, "xOffset": {"field": "grp", "type": "nominal"}, "y": {"datum": 0, "type": "quantitative", "axis": null}}},
  {"transform": [{"filter": "datum.stars == 2 && datum.pos == 'top'"}], "mark": {"type": "text", "text": ["*", "*"], "lineHeight": 10, "fontSize": 20, "fontWeight": "bold", "baseline": "bottom", "dy": -5, "color": "black"},
   "encoding": {"x": {"field": "region", "type": "nominal", "axis": null}, "xOffset": {"field": "grp", "type": "nominal"}, "y": {"field": "hi", "type": "quantitative", "axis": null}}},
  {"data": {"name": "bracket"}, "mark": {"type": "rule", "color": "#333", "strokeWidth": 1},
   "encoding": {"x": {"field": "region", "type": "nominal", "axis": null}, "xOffset": {"field": "grp", "type": "nominal"}, "y": {"field": "lo", "type": "quantitative", "axis": null}, "y2": {"field": "hi"}}},
  {"data": {"name": "hash"}, "mark": {"type": "tick", "orient": "horizontal", "color": "#333", "thickness": 1, "size": 13},
   "encoding": {"x": {"field": "region", "type": "nominal", "axis": null}, "y": {"field": "y", "type": "quantitative", "axis": null}}},
  {"data": {"name": "hash"}, "mark": {"type": "text", "fontSize": 16, "baseline": "alphabetic", "dy": -3, "color": "black"},
   "encoding": {"x": {"field": "region", "type": "nominal", "axis": null}, "y": {"field": "y", "type": "quantitative", "axis": null}, "text": {"field": "label"}}}
 ]}
]
}
]
}
]
}
